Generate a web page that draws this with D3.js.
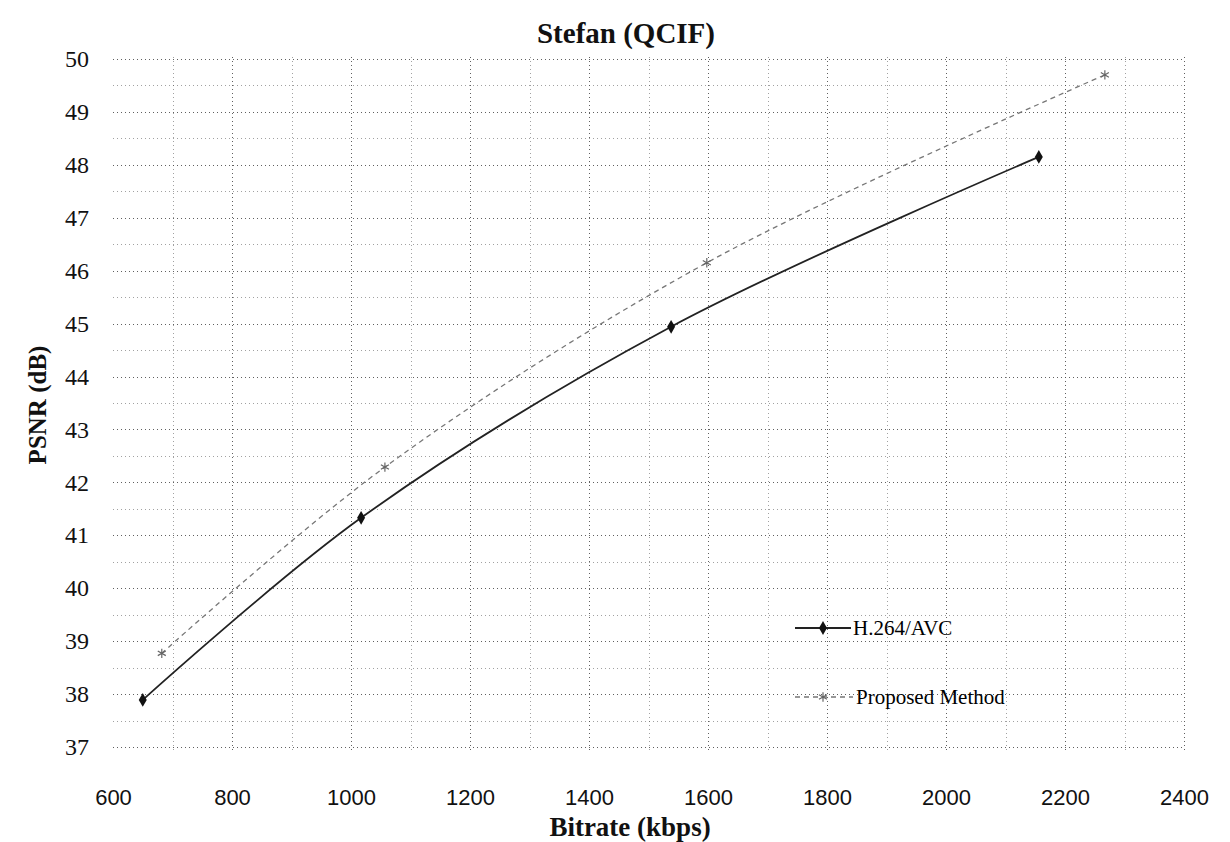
<html>
<head>
<meta charset="UTF-8" />
<style>
body { margin: 0; background: #fff; }
</style>
</head>
<body>
<script src="https://d3js.org/d3.v7.min.js" charset="utf-8"></script>
<script>
var width = 1230;
var height = 842;
var serif = "'Liberation Serif', 'Times New Roman', serif";

// data
var xTicks = [600, 800, 1000, 1200, 1400, 1600, 1800, 2000, 2200, 2400];
var yTicks = [37, 38, 39, 40, 41, 42, 43, 44, 45, 46, 47, 48, 49, 50];

var bitrateH264 = [650, 1017, 1538, 2156];
var psnrH264 = [37.89, 41.33, 44.94, 48.15];

var bitrateProposed = [682, 1057, 1598, 2267];
var psnrProposed = [38.77, 42.29, 46.15, 49.70];

var seriesNames = ["H.264/AVC", "Proposed Method"];

var svg = d3.select("body")
			.append("svg")
			.attr("width", width)
			.attr("height", height);

var x = d3.scaleLinear().domain([600, 2400]).range([113, 1184]);
var y = d3.scaleLinear().domain([37, 50]).range([747, 59]);

//网格
var grid = svg.append("g")
			  .attr("stroke", "#444")
			  .attr("stroke-width", 1)
			  .attr("stroke-dasharray", "1,3");

grid.selectAll("line.h")
	.data(d3.range(37, 50.01, 0.5))
	.enter()
	.append("line")
	.attr("class", "h")
	.attr("x1", x(600))
	.attr("x2", x(2400))
	.attr("y1", d => Math.round(y(d)) + 0.5)
	.attr("y2", d => Math.round(y(d)) + 0.5)
	.attr("stroke-opacity", d => d % 1 === 0 ? 0.85 : 0.5);

grid.selectAll("line.v")
	.data(d3.range(700, 2401, 100))
	.enter()
	.append("line")
	.attr("class", "v")
	.attr("x1", d => Math.round(x(d)) + 0.5)
	.attr("x2", d => Math.round(x(d)) + 0.5)
	.attr("y1", y(50) - 2)
	.attr("y2", y(37) + 5)
	.attr("stroke-opacity", d => d % 200 === 0 ? 0.85 : 0.5);

//坐标轴
var xAxis = svg.append("g")
			   .attr("transform", "translate(0," + (y(37) + 42) + ")")
			   .call(d3.axisBottom(x).tickValues(xTicks).tickFormat(d3.format("d")).tickSize(0).tickPadding(0));
xAxis.select(".domain").remove();
xAxis.selectAll("text")
	 .style("font-family", "'Liberation Sans', Arial, sans-serif")
	 .style("font-size", "22px")
	 .attr("fill", "#111");

var yAxis = svg.append("g")
			   .attr("transform", "translate(89,0)")
			   .call(d3.axisLeft(y).tickValues(yTicks).tickSize(0).tickPadding(0));
yAxis.select(".domain").remove();
yAxis.selectAll("text")
	 .style("font-family", serif)
	 .style("font-size", "24px")
	 .attr("fill", "#111");

//标题
svg.append("text")
   .attr("x", 626)
   .attr("y", 43)
   .attr("text-anchor", "middle")
   .style("font-family", serif)
   .style("font-weight", "bold")
   .style("font-size", "29px")
   .attr("fill", "#111")
   .text("Stefan (QCIF)");

svg.append("text")
   .attr("x", 630)
   .attr("y", 836)
   .attr("text-anchor", "middle")
   .style("font-family", serif)
   .style("font-weight", "bold")
   .style("font-size", "27px")
   .attr("fill", "#111")
   .text("Bitrate (kbps)");

svg.append("text")
   .attr("transform", "translate(46,405) rotate(-90)")
   .attr("text-anchor", "middle")
   .style("font-family", serif)
   .style("font-weight", "bold")
   .style("font-size", "25px")
   .attr("fill", "#111")
   .text("PSNR (dB)");

//折线
var line = d3.line()
			 .x(d => x(d[0]))
			 .y(d => y(d[1]))
			 .curve(d3.curveCatmullRom);

var h264 = bitrateH264.map((b, i) => [b, psnrH264[i]]);
var proposed = bitrateProposed.map((b, i) => [b, psnrProposed[i]]);

svg.append("path")
   .datum(proposed)
   .attr("fill", "none")
   .attr("stroke", "#777")
   .attr("stroke-width", 1.3)
   .attr("stroke-dasharray", "5,4")
   .attr("d", line);

svg.append("path")
   .datum(h264)
   .attr("fill", "none")
   .attr("stroke", "#222")
   .attr("stroke-width", 1.8)
   .attr("d", line);

var diamond = d3.symbol().type(d3.symbolDiamond).size(55);
var star = d3.symbol().type(d3.symbolAsterisk).size(60);

svg.append("g")
   .selectAll("path")
   .data(h264)
   .enter()
   .append("path")
   .attr("transform", d => "translate(" + x(d[0]) + "," + y(d[1]) + ")")
   .attr("d", diamond)
   .attr("fill", "#111");

svg.append("g")
   .selectAll("path")
   .data(proposed)
   .enter()
   .append("path")
   .attr("transform", d => "translate(" + x(d[0]) + "," + y(d[1]) + ")")
   .attr("d", star)
   .attr("fill", "none")
   .attr("stroke", "#666")
   .attr("stroke-width", 1.2);

//图例
var legend = svg.append("g").attr("transform", "translate(795,628)");

legend.append("line")
	  .attr("x1", 0).attr("x2", 56)
	  .attr("y1", 0).attr("y2", 0)
	  .attr("stroke", "#222")
	  .attr("stroke-width", 1.8);
legend.append("path")
	  .attr("transform", "translate(28,0)")
	  .attr("d", diamond)
	  .attr("fill", "#111");
legend.append("text")
	  .attr("x", 58)
	  .attr("y", 7)
	  .style("font-family", serif)
	  .style("font-size", "21px")
	  .text(seriesNames[0]);

legend.append("line")
	  .attr("x1", 0).attr("x2", 58)
	  .attr("y1", 69).attr("y2", 69)
	  .attr("stroke", "#777")
	  .attr("stroke-width", 1.3)
	  .attr("stroke-dasharray", "5,4");
legend.append("path")
	  .attr("transform", "translate(28,69)")
	  .attr("d", star)
	  .attr("fill", "none")
	  .attr("stroke", "#666")
	  .attr("stroke-width", 1.2);
legend.append("text")
	  .attr("x", 61)
	  .attr("y", 76)
	  .style("font-family", serif)
	  .style("font-size", "21px")
	  .text(seriesNames[1]);
</script>
</body>
</html>
